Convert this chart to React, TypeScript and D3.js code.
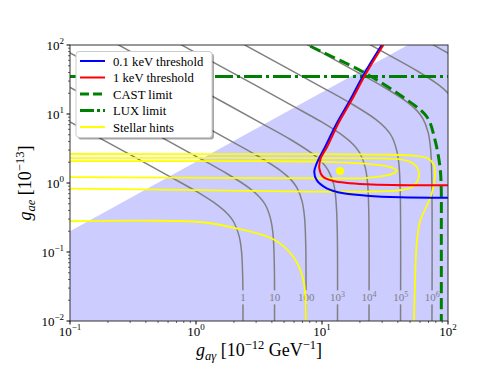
import React from 'react'
import * as d3 from 'd3'

// axis decades and their exponent labels
const xDecades = [0.1, 1, 10, 100]
const xDecadeExp = ['−1', '0', '1', '2']
const yDecades = [0.01, 0.1, 1, 10, 100]
const yDecadeExp = ['−2', '−1', '0', '1', '2']

// edge of the shaded (allowed) region, g_ae vs g_agamma
const shadeEdge: [number, number][] = [[0.1, 0.2], [48, 100]]

// iso-event-rate contours, [g_agamma, g_ae]
const iso1: [number, number][] = [[0.01, 77], [0.1, 7.7], [0.3, 2.57], [0.6, 1.28], [1.0, 0.76], [1.5, 0.47], [1.8, 0.35], [2.0, 0.27], [2.2, 0.17], [2.3, 0.1], [2.35, 0.04], [2.36, 0.01]]
const iso10: [number, number][] = [[0.0178, 137], [0.178, 13.7], [0.533, 4.57], [1.07, 2.28], [1.78, 1.35], [2.67, 0.836], [3.2, 0.622], [3.56, 0.48], [3.91, 0.3], [4.09, 0.178], [4.18, 0.071], [4.2, 0.01]]
const iso100: [number, number][] = [[0.0316, 243], [0.316, 24.3], [0.949, 8.13], [1.9, 4.05], [3.16, 2.4], [4.74, 1.49], [5.69, 1.11], [6.32, 0.854], [6.96, 0.538], [7.27, 0.316], [7.43, 0.126], [7.46, 0.01]]
const iso1e3: [number, number][] = [[0.0562, 433], [0.562, 43.3], [1.69, 14.45], [3.37, 7.2], [5.62, 4.27], [8.43, 2.64], [10.1, 1.97], [11.2, 1.52], [12.4, 0.956], [12.9, 0.562], [13.2, 0.225], [13.27, 0.01]]
const iso1e4: [number, number][] = [[0.1, 770], [1, 77], [3, 25.7], [6, 12.8], [10, 7.6], [15, 4.7], [18, 3.5], [20, 2.7], [22, 1.7], [23, 1.0], [23.5, 0.4], [23.6, 0.01]]
const iso1e5: [number, number][] = [[0.178, 1370], [1.78, 137], [5.33, 45.7], [10.7, 22.8], [17.8, 13.5], [26.7, 8.36], [32, 6.22], [35.6, 4.8], [39.1, 3.0], [40.9, 1.78], [41.8, 0.71], [42, 0.01]]
const iso1e6: [number, number][] = [[0.316, 2435], [3.16, 243], [9.49, 81.3], [19, 40.5], [31.6, 24], [47.4, 14.9], [56.9, 11.1], [63.2, 8.54], [69.6, 5.38], [72.7, 3.16], [74.3, 1.26], [74.6, 0.01]]
const iso1e7: [number, number][] = [[0.562, 4330], [5.62, 433], [16.9, 144.5], [33.7, 72], [56.2, 42.7], [84.3, 26.4], [101, 19.7], [112, 15.2], [124, 9.56], [129, 5.62], [132, 2.25], [133, 0.01]]
const iso1e8: [number, number][] = [[1, 7700], [10, 770], [30, 257], [60, 128], [100, 76], [150, 47], [180, 35], [200, 27], [220, 17], [230, 10], [235, 4], [236, 0.01]]
const isoCurves = [iso1, iso10, iso100, iso1e3, iso1e4, iso1e5, iso1e6, iso1e7, iso1e8]

// inline contour labels
const isoLabelBase = ['1', '10', '100', '10', '10', '10', '10']
const isoLabelExp = ['', '', '', '3', '4', '5', '6']
const isoLabelG = [2.36, 4.22, 7.5, 13.3, 23.6, 42.2, 75]
const isoLabelGae = 0.022

// stellar hints (yellow) contours
const hintInner: [number, number][] = [[0.1, 2.08], [3, 2.07], [10, 2.04], [16, 1.97], [24, 1.88], [31, 1.78], [36, 1.67], [39.2, 1.52], [37, 1.38], [31, 1.27], [22, 1.18], [12, 1.17], [3, 1.18], [0.1, 1.22]]
const hintMiddle: [number, number][] = [[0.1, 2.3], [10, 2.3], [30, 2.27], [42, 2.2], [50, 2.02], [56, 1.75], [58.9, 1.38], [57, 1.05], [51, 0.86], [40, 0.78], [22, 0.75], [8, 0.75], [1, 0.79], [0.1, 0.83]]
const hintOuterTop: [number, number][] = [[53.7, 0.01], [54.7, 0.036], [56.5, 0.135], [60, 0.28], [66, 0.42], [74, 0.68], [78.9, 1.3], [77.5, 1.8], [70, 2.25], [55, 2.48], [30, 2.58], [5, 2.62], [0.1, 2.63]]
const hintOuterLow: [number, number][] = [[0.1, 0.279], [0.36, 0.284], [1.08, 0.272], [2.1, 0.22], [4.11, 0.153], [5.92, 0.0855], [7.11, 0.0393], [7.46, 0.01]]
const hintBest: [number, number] = [13.9, 1.49]

// limits
const castLimit: [number, number][] = [[6.3, 125], [7.74, 100], [21.9, 39.3], [43.9, 17.6], [68.1, 9.05], [78.8, 4.2], [86.4, 1.7], [88.3, 0.875], [88.5, 0.2], [88.5, 0.01]]
const luxLimit = 35

// detection thresholds
const thr01: [number, number][] = [[29.8, 100], [21.7, 38.9], [16.7, 15.9], [13.1, 7.33], [10.6, 3.36], [9.08, 1.93], [8.68, 1.44], [9.08, 1.1], [10.9, 0.838], [14.8, 0.709], [22.6, 0.655], [41.6, 0.621], [100, 0.612]]
const thr1: [number, number][] = [[30.7, 100], [22.4, 38.9], [17.2, 15.9], [13.5, 7.33], [11.0, 3.36], [9.77, 2.28], [9.52, 1.63], [10.2, 1.23], [12.3, 1.07], [22.6, 0.957], [100, 0.926]]

const legendLabels = ['0.1 keV threshold', '1 keV threshold', 'CAST limit', 'LUX limit', 'Stellar hints']

const font = '"Liberation Serif", "DejaVu Serif", serif'

export default function App() {
  const left = 70, right = 448, top = 45, bottom = 321
  const x = d3.scaleLog().domain([0.1, 100]).range([left, right])
  const y = d3.scaleLog().domain([0.01, 100]).range([bottom, top])

  const line = d3.line<[number, number]>()
    .x(d => x(d[0]))
    .y(d => y(d[1]))
    .curve(d3.curveCatmullRom.alpha(0.5))

  const shade = [[0.1, 0.01] as [number, number], ...shadeEdge, [100, 100] as [number, number], [100, 0.01] as [number, number]]
  const shadePath = d3.line<[number, number]>().x(d => x(d[0])).y(d => y(d[1]))(shade) + 'Z'

  const minorX: number[] = []
  xDecades.slice(0, -1).forEach(d => { for (let k = 2; k < 10; k++) minorX.push(d * k) })
  const minorY: number[] = []
  yDecades.slice(0, -1).forEach(d => { for (let k = 2; k < 10; k++) minorY.push(d * k) })

  const legendStyles = [
    { stroke: '#0000ff', w: 2, dash: undefined },
    { stroke: '#ff0000', w: 2, dash: undefined },
    { stroke: '#008000', w: 3, dash: '9,4' },
    { stroke: '#008000', w: 3, dash: '14,3,3,3' },
    { stroke: '#ffff00', w: 2, dash: undefined },
  ]

  return (
    <svg width={498} height={374} style={{ display: 'block', position: 'absolute', left: 0, top: 0 }} fontFamily={font}>
      <defs>
        <clipPath id="plot">
          <rect x={left} y={top} width={right - left} height={bottom - top} />
        </clipPath>
      </defs>
      <rect width={498} height={374} fill="#fff" />
      <g clipPath="url(#plot)">
        <path d={shadePath} fill="#ccccff" />
        {isoCurves.map((c, i) => (
          <path key={i} d={line(c) || ''} fill="none" stroke="#808080" strokeWidth={1.5} />
        ))}
        {isoLabelG.map((g, i) => {
          const w = isoLabelBase[i].length * 5.6 + isoLabelExp[i].length * 4.5 + 4
          return (
            <g key={i}>
              <rect x={x(g) - w / 2} y={y(isoLabelGae) - 7} width={w} height={14} fill="#ccccff" />
              <text x={x(g)} y={y(isoLabelGae) + 4} textAnchor="middle" fontSize={11} fill="#808080">
                {isoLabelBase[i]}
                {isoLabelExp[i] && <tspan dy={-4} fontSize={8}>{isoLabelExp[i]}</tspan>}
              </text>
            </g>
          )
        })}
        {[hintInner, hintMiddle, hintOuterTop, hintOuterLow].map((c, i) => (
          <path key={i} d={line(c) || ''} fill="none" stroke="#ffff00" strokeWidth={1.8} />
        ))}
        <circle cx={x(hintBest[0])} cy={y(hintBest[1])} r={4} fill="#ffff00" />
        <path d={line(castLimit) || ''} fill="none" stroke="#008000" strokeWidth={3} strokeDasharray="11,5" />
        <line x1={left} x2={right} y1={y(luxLimit)} y2={y(luxLimit)} stroke="#008000" strokeWidth={3} strokeDasharray="18,4,3,4" />
        <path d={line(thr01) || ''} fill="none" stroke="#0000ff" strokeWidth={2} />
        <path d={line(thr1) || ''} fill="none" stroke="#ff0000" strokeWidth={2} />
      </g>

      {/* frame */}
      <rect x={left} y={top} width={right - left} height={bottom - top} fill="none" stroke="#333" strokeWidth={1} />

      {/* x ticks */}
      {xDecades.map((v, i) => (
        <g key={'xt' + i}>
          <line x1={x(v)} x2={x(v)} y1={bottom} y2={bottom + 3.5} stroke="#000" />
          <text x={x(v)} y={bottom + 15} textAnchor="middle" fontSize={13}>
            10<tspan dy={-6} fontSize={9}>{xDecadeExp[i]}</tspan>
          </text>
        </g>
      ))}
      {minorX.map((v, i) => (
        <line key={'xm' + i} x1={x(v)} x2={x(v)} y1={bottom} y2={bottom + 2} stroke="#000" strokeWidth={0.6} />
      ))}
      {/* y ticks */}
      {yDecades.map((v, i) => (
        <g key={'yt' + i}>
          <line x1={left - 3.5} x2={left} y1={y(v)} y2={y(v)} stroke="#000" />
          <text x={left - 6} y={y(v) + 5} textAnchor="end" fontSize={13}>
            10<tspan dy={-6} fontSize={9}>{yDecadeExp[i]}</tspan>
          </text>
        </g>
      ))}
      {minorY.map((v, i) => (
        <line key={'ym' + i} x1={left - 2} x2={left} y1={y(v)} y2={y(v)} stroke="#000" strokeWidth={0.6} />
      ))}

      {/* axis labels */}
      <text x={(left + right) / 2} y={356} textAnchor="middle" fontSize={18}>
        <tspan fontStyle="italic">g</tspan>
        <tspan fontStyle="italic" fontSize={12.5} dy={4}>aγ</tspan>
        <tspan dy={-4}>{' [10'}</tspan>
        <tspan fontSize={12.5} dy={-7}>−12</tspan>
        <tspan dy={7}>{' GeV'}</tspan>
        <tspan fontSize={12.5} dy={-7}>−1</tspan>
        <tspan dy={7}>]</tspan>
      </text>
      <text transform={`translate(31,${(top + bottom) / 2}) rotate(-90)`} textAnchor="middle" fontSize={18}>
        <tspan fontStyle="italic">g</tspan>
        <tspan fontStyle="italic" fontSize={12.5} dy={4}>ae</tspan>
        <tspan dy={-4}>{' [10'}</tspan>
        <tspan fontSize={12.5} dy={-7}>−13</tspan>
        <tspan dy={7}>]</tspan>
      </text>

      {/* legend */}
      <g>
        <rect x={78} y={53.5} width={136} height={86} rx={3} fill="#000" opacity={0.35} />
        <rect x={76} y={51.5} width={136} height={86} rx={3} fill="#fff" stroke="#cccccc" />
        {legendLabels.map((lab, i) => {
          const cy = 61 + i * 16.5
          const s = legendStyles[i]
          return (
            <g key={lab}>
              <line x1={80} x2={105} y1={cy} y2={cy} stroke={s.stroke} strokeWidth={s.w} strokeDasharray={s.dash} />
              <text x={113} y={cy + 4.5} fontSize={12.7}>{lab}</text>
            </g>
          )
        })}
      </g>
    </svg>
  )
}
